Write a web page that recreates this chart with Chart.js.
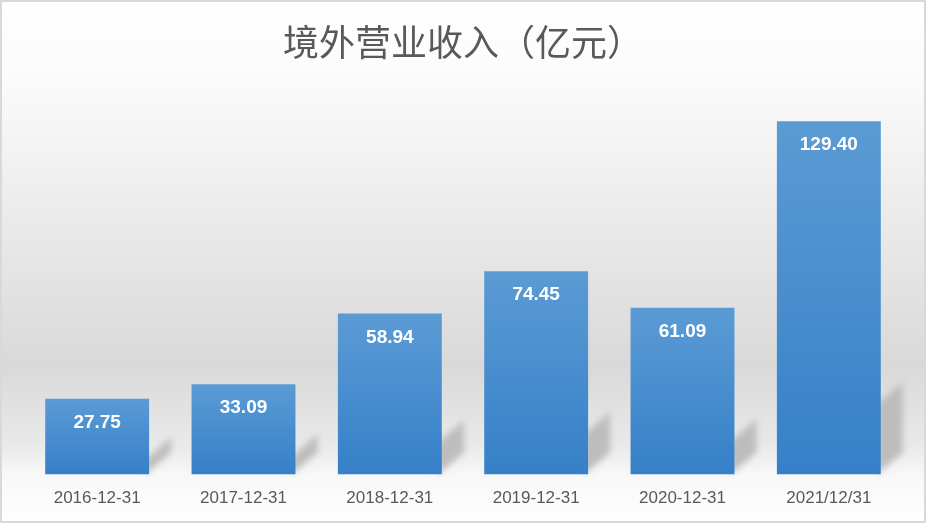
<!DOCTYPE html>
<html>
<head>
<meta charset="utf-8">
<script src="https://cdn.jsdelivr.net/npm/chart.js@4"></script>
<style>
    html, body { margin: 0; padding: 0; background: #fff; }
    #chart { display: block; }
</style>
</head>
<body>
<canvas id="chart" width="926" height="523"></canvas>
<script>
// datos
var titulo = '境外营业收入（亿元）';
var fechas = ['2016-12-31', '2017-12-31', '2018-12-31', '2019-12-31', '2020-12-31', '2021/12/31'];
var ingresos = [27.75, 33.09, 58.94, 74.45, 61.09, 129.40];
var ejeMax = 140;

var colorArriba = '#5b9bd5';
var colorAbajo = '#3580c8';

// fondo con degradado y borde gris
var fondoPlugin = {
    id: 'fondo',
    beforeDraw: function(chart) {
        var ctx = chart.ctx;
        var h = chart.height;
        var g = ctx.createLinearGradient(0, 0, 0, h);
        g.addColorStop(0, '#ffffff');
        g.addColorStop(0.15, '#fbfbfb');
        g.addColorStop(0.70, '#d9d9d9');
        g.addColorStop(0.85, '#e9e9e9');
        g.addColorStop(0.91, '#f8f8f8');
        g.addColorStop(1, '#ffffff');
        ctx.save();
        ctx.fillStyle = g;
        ctx.fillRect(0, 0, chart.width, h);
        ctx.restore();
    },
    afterDraw: function(chart) {
        var ctx = chart.ctx;
        ctx.save();
        ctx.strokeStyle = '#d9d9d9';
        ctx.lineWidth = 2;
        ctx.strokeRect(1, 1, chart.width - 2, chart.height - 2);
        ctx.restore();
    }
};

// sombra en perspectiva detras de cada barra + etiquetas
var sombraPlugin = {
    id: 'sombra',
    beforeDatasetsDraw: function(chart) {
        var ctx = chart.ctx;
        var meta = chart.getDatasetMeta(0);
        ctx.save();
        ctx.filter = 'blur(3px)';
        ctx.fillStyle = '#bdbdbd';
        meta.data.forEach(function(bar) {
            var x1 = bar.x + bar.width / 2;
            var base = bar.base;
            var s = (base - bar.y) * 0.2;
            ctx.beginPath();
            ctx.moveTo(x1 - 4, base);
            ctx.lineTo(x1 + 22, base - 22);
            ctx.lineTo(x1 + 22, base - 22 - s);
            ctx.lineTo(x1 - 4, base - s);
            ctx.closePath();
            ctx.fill();
        });
        ctx.restore();
    },
    afterDatasetsDraw: function(chart) {
        var ctx = chart.ctx;
        var meta = chart.getDatasetMeta(0);
        ctx.save();
        ctx.fillStyle = '#ffffff';
        ctx.font = 'bold 19px "Liberation Sans", Arial, sans-serif';
        ctx.textAlign = 'center';
        ctx.textBaseline = 'middle';
        meta.data.forEach(function(bar, i) {
            ctx.fillText(ingresos[i].toFixed(2), bar.x, bar.y + 24);
        });
        ctx.restore();
    }
};

var ctx = document.getElementById('chart');
var grafico = new Chart(ctx, {
    type: 'bar',
    data: {
        labels: fechas,
        datasets: [{
            data: ingresos,
            backgroundColor: function(c) {
                var chart = c.chart;
                if (!chart.chartArea || c.type !== 'data') return colorAbajo;
                var y = chart.scales.y.getPixelForValue(c.raw);
                var base = chart.scales.y.getPixelForValue(0);
                var g = chart.ctx.createLinearGradient(0, y, 0, base);
                g.addColorStop(0, colorArriba);
                g.addColorStop(1, colorAbajo);
                return g;
            },
            borderWidth: 0,
            categoryPercentage: 1,
            barPercentage: 0.71
        }]
    },
    options: {
        responsive: false,
        animation: false,
        devicePixelRatio: 1,
        layout: { padding: { left: 24, right: 24, top: 0, bottom: 8 } },
        plugins: {
            legend: { display: false },
            tooltip: { enabled: false },
            title: {
                display: true,
                text: titulo,
                color: '#595959',
                font: { family: '"Noto Sans CJK SC", sans-serif', size: 36, weight: 'normal', lineHeight: 1.2 },
                padding: { top: 21, bottom: 28 }
            }
        },
        scales: {
            x: {
                grid: { display: false },
                border: { display: false },
                ticks: {
                    color: '#595959',
                    padding: 6,
                    font: { family: '"Liberation Sans", Arial, sans-serif', size: 17 }
                }
            },
            y: {
                display: false,
                min: 0,
                max: ejeMax
            }
        }
    },
    plugins: [fondoPlugin, sombraPlugin]
});
</script>
</body>
</html>
